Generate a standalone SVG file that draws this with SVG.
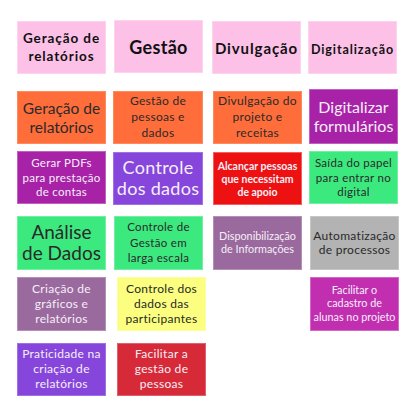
<svg xmlns="http://www.w3.org/2000/svg" width="412" height="419" viewBox="0 0 412 419">
<style>
rect{stroke-width:1}
text{font-family:Lato,"Noto Sans","Liberation Sans",sans-serif;text-anchor:middle;letter-spacing:0.3px}
.h{font-weight:bold;fill:#111;letter-spacing:0.9px}
.d{fill:#2a2a2a}
.w{fill:#f6eef8}
.pink{fill:#fdc1e8;stroke:#fdd3ef}
.orange{fill:#ff6d3a;stroke:#ff8a60}
.mag{fill:#a822a8;stroke:#c060c0}
.vio{fill:#8646dc;stroke:#a070e6}
.red{fill:#ee1111;stroke:#f46060}
.green{fill:#3ce97f;stroke:#70f0a0}
.mpur{fill:#9a6a9e;stroke:#b490b6}
.grey{fill:#b3b3b3;stroke:#c6c6c6}
.yel{fill:#fbfe7e;stroke:#fcfea4}
.dred{fill:#d62a38;stroke:#e06070}
.mag2{fill:#c12fb0;stroke:#d468c8}
</style>
<rect width="412" height="419" fill="#ffffff"/>
<g id="h1"><rect class="pink" x="17.5" y="21.5" width="88" height="52"/><text class="h" font-size="13.5"><tspan x="61.5" y="43">Geração de</tspan><tspan x="61.5" y="61">relatórios</tspan></text></g>
<g id="h2"><rect class="pink" x="114.5" y="20.5" width="88" height="52"/><text class="h" font-size="18" x="158.5" y="54" style="letter-spacing:0.3px">Gestão</text></g>
<g id="h3"><rect class="pink" x="212.5" y="21.5" width="88" height="52"/><text class="h" font-size="15" x="256.5" y="53.5">Divulgação</text></g>
<g id="h4"><rect class="pink" x="308.5" y="21.5" width="88" height="52"/><text class="h" font-size="12.5" x="352.5" y="53.5">Digitalização</text></g>

<g id="r2c1"><rect class="orange" x="17.5" y="91.5" width="88" height="52"/><text class="d" font-size="15.5" style="letter-spacing:0"><tspan x="61.5" y="113.5">Geração de</tspan><tspan x="61.5" y="132.5">relatórios</tspan></text></g>
<g id="r2c2"><rect class="orange" x="113.5" y="91.5" width="89" height="52"/><text class="d" font-size="12"><tspan x="158" y="105">Gestão de</tspan><tspan x="158" y="121">pessoas e</tspan><tspan x="158" y="137">dados</tspan></text></g>
<g id="r2c3"><rect class="orange" x="213.5" y="91.5" width="88" height="52"/><text class="d" font-size="12"><tspan x="257.5" y="104.5">Divulgação do</tspan><tspan x="257.5" y="121">projeto e</tspan><tspan x="257.5" y="136.5">receitas</tspan></text></g>
<g id="r2c4"><rect class="mag" x="309.5" y="89.5" width="88" height="54"/><text class="w" font-size="16" style="letter-spacing:0"><tspan x="353.5" y="112.5">Digitalizar</tspan><tspan x="353.5" y="132">formulários</tspan></text></g>

<g id="r3c1"><rect class="mag" x="17.5" y="151.5" width="88" height="52"/><text class="w" font-size="11.5"><tspan x="61.5" y="167">Gerar PDFs</tspan><tspan x="61.5" y="181.5">para prestação</tspan><tspan x="61.5" y="196">de contas</tspan></text></g>
<g id="r3c2"><rect class="vio" x="113.5" y="152.5" width="89" height="52"/><text class="w" font-size="18"><tspan x="158" y="174">Controle</tspan><tspan x="158" y="195">dos dados</tspan></text></g>
<g id="r3c3"><rect class="red" x="213.5" y="152.5" width="88" height="52"/><text class="w" font-size="10.5" font-weight="bold" style="letter-spacing:0"><tspan x="257.5" y="170">Alcançar pessoas</tspan><tspan x="257.5" y="183">que necessitam</tspan><tspan x="257.5" y="196">de apoio</tspan></text></g>
<g id="r3c4"><rect class="green" x="309.5" y="151.5" width="88" height="52"/><text class="d" font-size="11.5"><tspan x="353.5" y="167">Saída do papel</tspan><tspan x="353.5" y="181.5">para entrar no</tspan><tspan x="353.5" y="196">digital</tspan></text></g>

<g id="r4c1"><rect class="green" x="17.5" y="216.5" width="88" height="53"/><text class="d" font-size="19" style="letter-spacing:0"><tspan x="61.5" y="239">Análise</tspan><tspan x="61.5" y="260">de Dados</tspan></text></g>
<g id="r4c2"><rect class="green" x="114.5" y="216.5" width="88" height="53"/><text class="d" font-size="11.5"><tspan x="158.5" y="231">Controle de</tspan><tspan x="158.5" y="247">Gestão em</tspan><tspan x="158.5" y="262">larga escala</tspan></text></g>
<g id="r4c3"><rect class="mpur" x="213.5" y="216.5" width="88" height="53"/><text class="w" font-size="10.8" style="letter-spacing:0"><tspan x="257.5" y="239.5">Disponibilização</tspan><tspan x="257.5" y="253">de Informações</tspan></text></g>
<g id="r4c4"><rect class="grey" x="310.5" y="216.5" width="88" height="53"/><text class="d" font-size="12"><tspan x="354.5" y="240">Automatização</tspan><tspan x="354.5" y="254">de processos</tspan></text></g>

<g id="r5c1"><rect class="mpur" x="17.5" y="277.5" width="88" height="53"/><text class="w" font-size="12"><tspan x="61.5" y="293">Criação de</tspan><tspan x="61.5" y="308">gráficos e</tspan><tspan x="61.5" y="323">relatórios</tspan></text></g>
<g id="r5c2"><rect class="yel" x="117.5" y="277.5" width="88" height="53"/><text class="d" font-size="12"><tspan x="161.5" y="293">Controle dos</tspan><tspan x="161.5" y="308">dados das</tspan><tspan x="161.5" y="323">participantes</tspan></text></g>
<g id="r5c4"><rect class="mag2" x="310.5" y="277.5" width="88" height="53"/><text class="w" font-size="10.8" style="letter-spacing:0"><tspan x="354.5" y="294">Facilitar o</tspan><tspan x="354.5" y="307">cadastro de</tspan><tspan x="354.5" y="320.5">alunas no projeto</tspan></text></g>

<g id="r6c1"><rect class="vio" x="17.5" y="343.5" width="88" height="52"/><text class="w" font-size="12"><tspan x="61.5" y="358">Praticidade na</tspan><tspan x="61.5" y="373">criação de</tspan><tspan x="61.5" y="388">relatórios</tspan></text></g>
<g id="r6c2"><rect class="dred" x="117.5" y="343.5" width="88" height="52"/><text class="w" font-size="12"><tspan x="161.5" y="358">Facilitar a</tspan><tspan x="161.5" y="373">gestão de</tspan><tspan x="161.5" y="388">pessoas</tspan></text></g>

<g id="connectors"></g>
</svg>
